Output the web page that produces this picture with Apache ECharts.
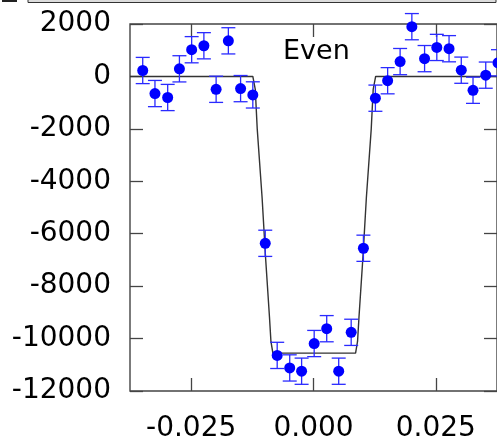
<!DOCTYPE html>
<html><head><meta charset="utf-8">
<script src="https://cdn.jsdelivr.net/npm/echarts@6/dist/echarts.min.js"></script>
<style>html,body{margin:0;padding:0;background:#fff}#c{width:497px;height:443px}</style>
</head><body><div id="c"></div>
<script>
var pointX = [-0.0349, -0.0324, -0.0298, -0.0274, -0.0249, -0.0224, -0.0199, -0.0174, -0.0149, -0.0124,
  -0.00986, -0.00742, -0.00486, -0.00243, 0.00014, 0.0027, 0.00515, 0.0077, 0.0102, 0.01265,
  0.01515, 0.0177, 0.0201, 0.0227, 0.0252, 0.0277, 0.0302, 0.0326, 0.0352, 0.0377];
var pointY = [226, -653, -804, 290, 1019, 1170, -491, 1358, -465, -705,
  -6366, -10642, -11120, -11245, -10189, -9623, -11245, -9762, -6555, -830,
  -164, 566, 1898, 679, 1106, 1057, 238, -528, 49, 520];
var pointErr = [500, 500, 500, 500, 500, 500, 500, 500, 500, 500,
  500, 500, 500, 500, 500, 500, 500, 500, 500, 500,
  500, 500, 500, 500, 500, 500, 500, 500, 500, 500];
var modelX = [-0.0375, -0.0124, -0.0119, -0.0115, -0.0105, -0.0098, -0.0090, -0.0087, -0.0083,
  0.0086, 0.0090, 0.0093, 0.0101, 0.0108, 0.0118, 0.0122, 0.0127, 0.0375];
var modelY = [0, 0, -490, -2000, -4640, -6900, -9170, -10110, -10555,
  -10555, -10110, -9170, -6900, -4640, -2000, -490, 0, 0];
var xTicks = [-0.025, 0, 0.025];
var panelLabel = 'Even';

var FONT = 'DejaVu Sans';
var frameColor = '#444';
var chart = echarts.init(document.getElementById('c'), null, {renderer: 'canvas'});
var pts = pointX.map(function (x, i) { return [x, pointY[i]]; });
var errs = pointX.map(function (x, i) { return [x, pointY[i], pointErr[i]]; });
var model = modelX.map(function (x, i) { return [x, modelY[i]]; });

var tickStyle = {show: true, inside: true, length: 13, lineStyle: {color: frameColor, width: 1.3}};
var noLine = {show: false, onZero: false};
chart.setOption({
  animation: false,
  grid: {left: 130, top: 24, width: 369, height: 371, show: true, borderColor: frameColor, borderWidth: 1.4, backgroundColor: 'transparent'},
  xAxis: [{
    type: 'value', min: -0.0375, max: 0.0375, position: 'bottom',
    axisLine: noLine, splitLine: {show: false},
    axisTick: Object.assign({customValues: xTicks}, tickStyle),
    axisLabel: {customValues: xTicks, fontSize: 28, fontFamily: FONT, color: '#000', margin: 24,
      formatter: function (v) { return v.toFixed(3); }}
  }, {
    type: 'value', min: -0.0375, max: 0.0375, position: 'top',
    axisLine: noLine, splitLine: {show: false},
    axisTick: Object.assign({customValues: xTicks}, tickStyle),
    axisLabel: {show: false}
  }],
  yAxis: [{
    type: 'value', min: -12000, max: 2000, interval: 2000, position: 'left',
    axisLine: noLine, splitLine: {show: false},
    axisTick: tickStyle,
    axisLabel: {fontSize: 28, fontFamily: FONT, color: '#000', margin: 19,
      formatter: function (v) { return String(v); }}
  }, {
    type: 'value', min: -12000, max: 2000, interval: 2000, position: 'right',
    axisLine: noLine, splitLine: {show: false},
    axisTick: tickStyle, axisLabel: {show: false}
  }],
  graphic: [
    {type: 'rect', shape: {x: 28, y: -6, width: 468, height: 8.5}, style: {fill: '#dcdcdc', stroke: '#333', lineWidth: 1}, z: 100},
    {type: 'rect', shape: {x: 2, y: 0, width: 15, height: 2}, style: {fill: '#222'}, z: 100},
    {type: 'text', left: 283, top: 38, style: {text: panelLabel, font: '27px "DejaVu Sans"', fill: '#000'}, z: 100}
  ],
  series: [{
    type: 'line', data: model, symbol: 'none', smooth: false, clip: true,
    lineStyle: {color: '#333', width: 1.4}, z: 2
  }, {
    type: 'custom', data: errs, clip: false, z: 3,
    renderItem: function (params, api) {
      var x = api.value(0), y = api.value(1), e = api.value(2);
      var top = api.coord([x, y + e]);
      var bot = api.coord([x, y - e]);
      var hw = 7;
      var st = {stroke: '#2a2aff', lineWidth: 1.3, fill: null};
      return {type: 'group', children: [
        {type: 'line', shape: {x1: top[0], y1: top[1], x2: bot[0], y2: bot[1]}, style: st},
        {type: 'line', shape: {x1: top[0] - hw, y1: top[1], x2: top[0] + hw, y2: top[1]}, style: st},
        {type: 'line', shape: {x1: bot[0] - hw, y1: bot[1], x2: bot[0] + hw, y2: bot[1]}, style: st}
      ]};
    }
  }, {
    type: 'scatter', data: pts, symbol: 'circle', symbolSize: 11, clip: false, z: 4,
    itemStyle: {color: '#0000ff', opacity: 1}
  }]
});
</script></body></html>
